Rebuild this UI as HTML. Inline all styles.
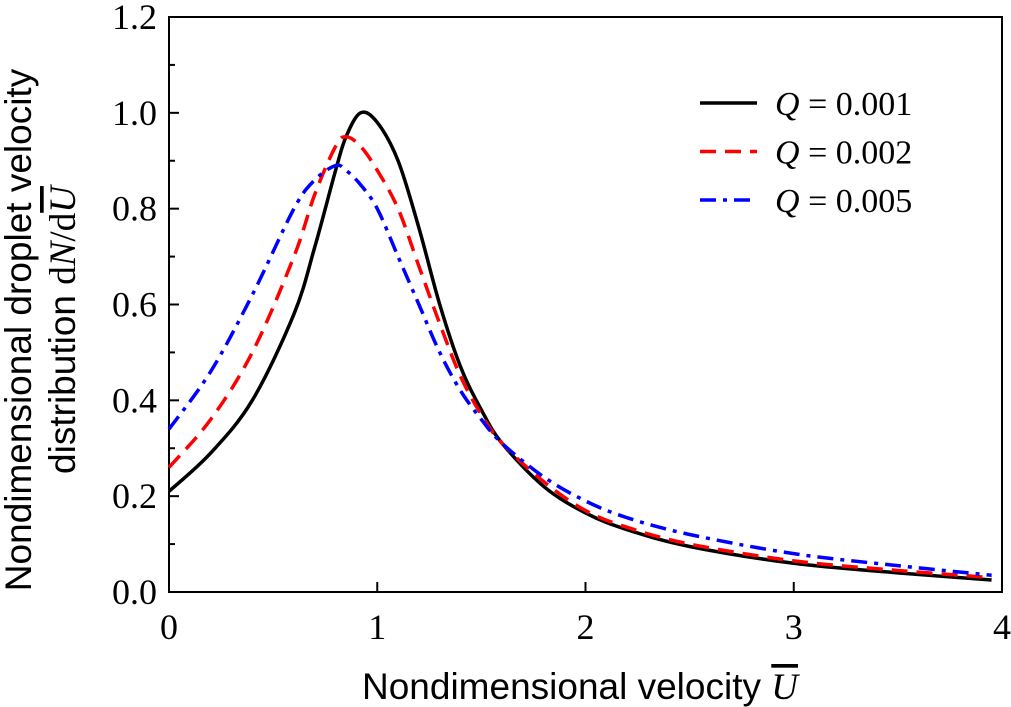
<!DOCTYPE html>
<html><head><meta charset="utf-8"><style>
body{margin:0;background:#fff;}
svg{display:block;}
.t{font-family:"Liberation Serif",serif;font-size:36px;fill:#000;}
.lg{font-family:"Liberation Serif",serif;font-size:34px;fill:#000;}
.s{font-family:"Liberation Sans",sans-serif;font-size:37px;fill:#000;}
</style></head><body>
<svg id="chart" width="1011" height="707">
<g id="axes"></g>
<g id="series"></g>
<g id="legend"></g>
<text class="s" x="580" y="699" text-anchor="middle">Nondimensional velocity <tspan font-family="Liberation Serif" font-style="italic" text-decoration="overline">U</tspan></text>
<text class="s" transform="translate(31,330) rotate(-90)" text-anchor="middle">Nondimensional droplet velocity</text>
<text class="s" transform="translate(75,330) rotate(-90)" text-anchor="middle">distribution <tspan font-family="Liberation Serif">d<tspan font-style="italic">N</tspan>/d<tspan font-style="italic" text-decoration="overline">U</tspan></tspan></text>
</svg>
<script>
const xTicks=[0,1,2,3,4];
const yTicks=[0.0,0.2,0.4,0.6,0.8,1.0,1.2];
const yTickLabels=["0.0","0.2","0.4","0.6","0.8","1.0","1.2"];
const xs=[0,0.2,0.4,0.6,0.7,0.8,0.85,0.92,1.0,1.1,1.2,1.3,1.4,1.5,1.6,1.8,2.0,2.2,2.5,3.0,3.5,3.95];
const q001=[0.21,0.29,0.40,0.58,0.72,0.88,0.95,1.0,0.98,0.90,0.76,0.60,0.47,0.38,0.31,0.22,0.165,0.13,0.095,0.06,0.04,0.025];
const q002=[0.26,0.36,0.50,0.70,0.83,0.93,0.95,0.93,0.88,0.80,0.68,0.56,0.45,0.37,0.31,0.23,0.17,0.135,0.10,0.065,0.045,0.03];
const q005=[0.34,0.46,0.62,0.80,0.86,0.89,0.88,0.85,0.80,0.70,0.60,0.50,0.42,0.36,0.31,0.24,0.19,0.155,0.12,0.08,0.055,0.035];
const seriesNames=["Q = 0.001","Q = 0.002","Q = 0.005"];
const NS="http://www.w3.org/2000/svg";
const X0=169,X1=1002,Y0=592,Y1=17;
function sx(v){return X0+(v-0)/(4-0)*(X1-X0);}
function sy(v){return Y0-(v-0)/(1.2-0)*(Y0-Y1);}
function mk(tag,attrs,parent){const e=document.createElementNS(NS,tag);for(const k in attrs)e.setAttribute(k,attrs[k]);parent.appendChild(e);return e;}
const axes=document.getElementById('axes');
let fr=mk('rect',{x:X0,y:Y1,width:X1-X0,height:Y0-Y1,fill:'none',stroke:'#000','stroke-width':2},axes);


xTicks.forEach(v=>{
 let l=mk('line',{x1:sx(v),x2:sx(v),y1:Y0,y2:Y0-10,stroke:'#000','stroke-width':2},axes);
 
 
 let t=mk('text',{x:sx(v),y:Y0+47,'text-anchor':'middle',class:'t'},axes);t.textContent=String(v);
 
 
});
yTicks.forEach((v,i)=>{
 let l=mk('line',{x1:X0,x2:X0+10,y1:sy(v),y2:sy(v),stroke:'#000','stroke-width':2},axes);
 
 
 let t=mk('text',{x:X0-12,y:sy(v)+12,'text-anchor':'end',class:'t'},axes);t.textContent=yTickLabels[i];
 
 
 if(i<yTicks.length-1){
  let m=(v+yTicks[i+1])/2;
  let l2=mk('line',{x1:X0,x2:X0+6,y1:sy(m),y2:sy(m),stroke:'#000','stroke-width':2},axes);
  
  
 }
});
const styles=[{c:'#000',d:''},{c:'#f00',d:'16,9'},{c:'#00f',d:'16,7,4,7'}];
const data=[q001,q002,q005];
const sg=document.getElementById('series');
function pathFor(ys){
 const p=xs.map((x,i)=>[sx(x),sy(ys[i])]);
 let d='M'+p[0][0]+','+p[0][1];
 for(let i=0;i<p.length-1;i++){
  const p0=p[i-1]||p[i],p1=p[i],p2=p[i+1],p3=p[i+2]||p2;
  const c1=[p1[0]+(p2[0]-p0[0])/6,p1[1]+(p2[1]-p0[1])/6];
  const c2=[p2[0]-(p3[0]-p1[0])/6,p2[1]-(p3[1]-p1[1])/6];
  d+=' C'+c1+' '+c2+' '+p2;
 }
 return d;
}
data.forEach((ys,i)=>{
 let p=mk('path',{d:pathFor(ys),fill:'none',stroke:styles[i].c,'stroke-width':3.5,'stroke-dasharray':styles[i].d},sg);
 
 
});
const lg=document.getElementById('legend');
seriesNames.forEach((n,i)=>{
 const y=103+i*48.5;
 let l=mk('line',{x1:700,x2:757,y1:y,y2:y,stroke:styles[i].c,'stroke-width':3.5,'stroke-dasharray':styles[i].d},lg);
 
 
 let t=mk('text',{x:775,y:y+12,class:'lg'},lg);
 t.innerHTML='<tspan font-style="italic">Q</tspan>'+n.slice(1);
 
 
});
</script>
</body></html>
